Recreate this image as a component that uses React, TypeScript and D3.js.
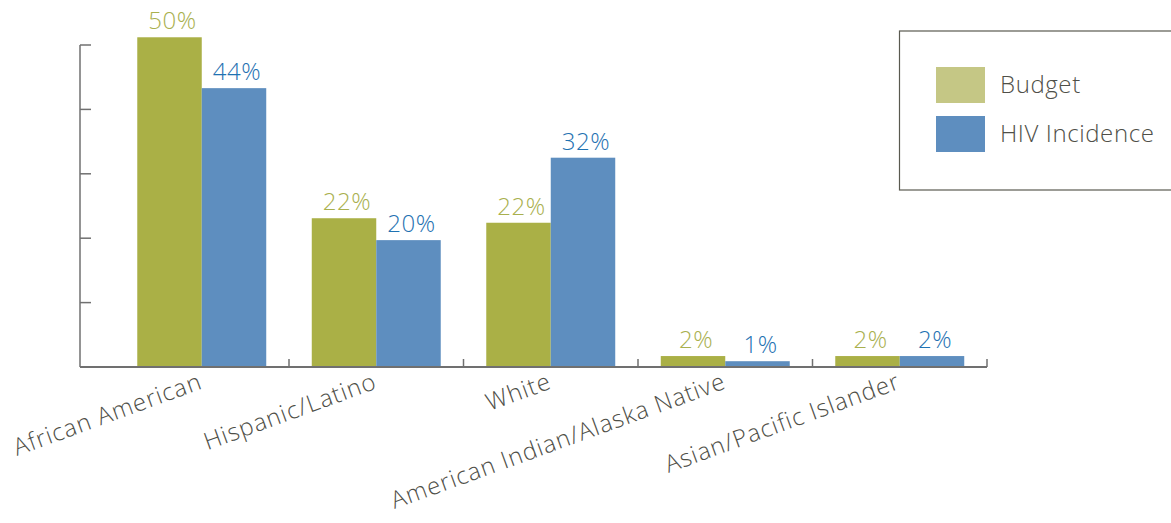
import React from "react";
import * as d3 from "d3";

const categories = [
  "African American",
  "Hispanic/Latino",
  "White",
  "American Indian/Alaska Native",
  "Asian/Pacific Islander",
];
const seriesNames = ["Budget", "HIV Incidence"];
const budgetValues = [51.2, 23.1, 22.4, 1.7, 1.7];
const incidenceValues = [43.3, 19.7, 32.5, 0.9, 1.7];
const budgetLabels = ["50%", "22%", "22%", "2%", "2%"];
const incidenceLabels = ["44%", "20%", "32%", "1%", "2%"];
const yTicks = [0, 10, 20, 30, 40, 50];

const W = 1171;
const H = 523;
const FONT = "'Open Sans', 'DejaVu Sans', sans-serif";
const barColors = ["#aab046", "#5e8ebf"];
const labelColors = ["#a9b04e", "#1f72b2"];
const legendColors = ["#c5c785", "#5e8ebf"];
const axisColor = "#707070";
const textColor = "#4f4f48";

export default function App() {
  const axisLeft = 80;
  const baseY = 367;
  const x = d3.scaleBand<string>().domain(categories).range([114.5, 987]).padding(0);
  const inner = d3
    .scaleBand<string>()
    .domain(seriesNames)
    .range([0, x.bandwidth()])
    .paddingInner(0)
    .paddingOuter(0.353);
  const y = d3.scaleLinear().domain([0, 50]).range([baseY, 45]);
  const series = [
    { name: seriesNames[0], values: budgetValues, labels: budgetLabels },
    { name: seriesNames[1], values: incidenceValues, labels: incidenceLabels },
  ];

  return (
    <div style={{ position: "absolute", left: 0, top: 0 }}>
      <svg width={W} height={H} style={{ display: "block", background: "#fff" }}>
        {/* y axis */}
        <line x1={axisLeft} x2={axisLeft} y1={y(50)} y2={baseY} stroke={axisColor} strokeWidth={1.5} />
        {yTicks.slice(1).map((t) => (
          <line key={t} x1={axisLeft} x2={axisLeft + 11} y1={y(t)} y2={y(t)} stroke={axisColor} strokeWidth={1.5} />
        ))}
        {/* bars */}
        {series.map((s, si) =>
          categories.map((c, i) => {
            const bx = (x(c) as number) + (inner(s.name) as number);
            return (
              <rect
                key={s.name + c}
                x={bx}
                y={y(s.values[i])}
                width={inner.bandwidth()}
                height={baseY - y(s.values[i])}
                fill={barColors[si]}
              />
            );
          })
        )}
        {/* value labels */}
        {series.map((s, si) =>
          categories.map((c, i) => {
            const bx = (x(c) as number) + (inner(s.name) as number) + inner.bandwidth() / 2 + 3;
            return (
              <text
                key={"l" + s.name + c}
                x={bx}
                y={y(s.values[i]) - 8}
                textAnchor="middle"
                fontFamily={FONT}
                fontWeight={300}
                fontSize={24}
                letterSpacing={0.5}
                fill={labelColors[si]}
              >
                {s.labels[i]}
              </text>
            );
          })
        )}
        {/* x axis */}
        <line x1={axisLeft} x2={x.range()[1]} y1={baseY} y2={baseY} stroke={axisColor} strokeWidth={2} />
        {categories.map((c) => {
          const tx = (x(c) as number) + x.bandwidth();
          return <line key={"t" + c} x1={tx} x2={tx} y1={baseY} y2={baseY - 8} stroke={axisColor} strokeWidth={1.5} />;
        })}
        {categories.map((c) => {
          const cx = (x(c) as number) + x.bandwidth() / 2 + 2;
          return (
            <text
              key={"c" + c}
              transform={`translate(${cx},${baseY + 21}) rotate(-20)`}
              textAnchor="end"
              fontFamily={FONT}
              fontWeight={300}
              fontSize={24}
              letterSpacing={1}
              fill={textColor}
            >
              {c}
            </text>
          );
        })}
        {/* legend */}
        <rect x={899.5} y={31} width={W} height={159} fill="none" stroke="#5a5a50" strokeWidth={1.2} />
        {seriesNames.map((n, i) => (
          <g key={"lg" + n} transform={`translate(936,${67 + i * 49})`}>
            <rect x={0} y={0} width={49} height={36} fill={legendColors[i]} />
            <text x={64} y={26} fontFamily={FONT} fontWeight={300} fontSize={24} letterSpacing={0.6} fill={textColor}>
              {n}
            </text>
          </g>
        ))}
      </svg>
    </div>
  );
}
